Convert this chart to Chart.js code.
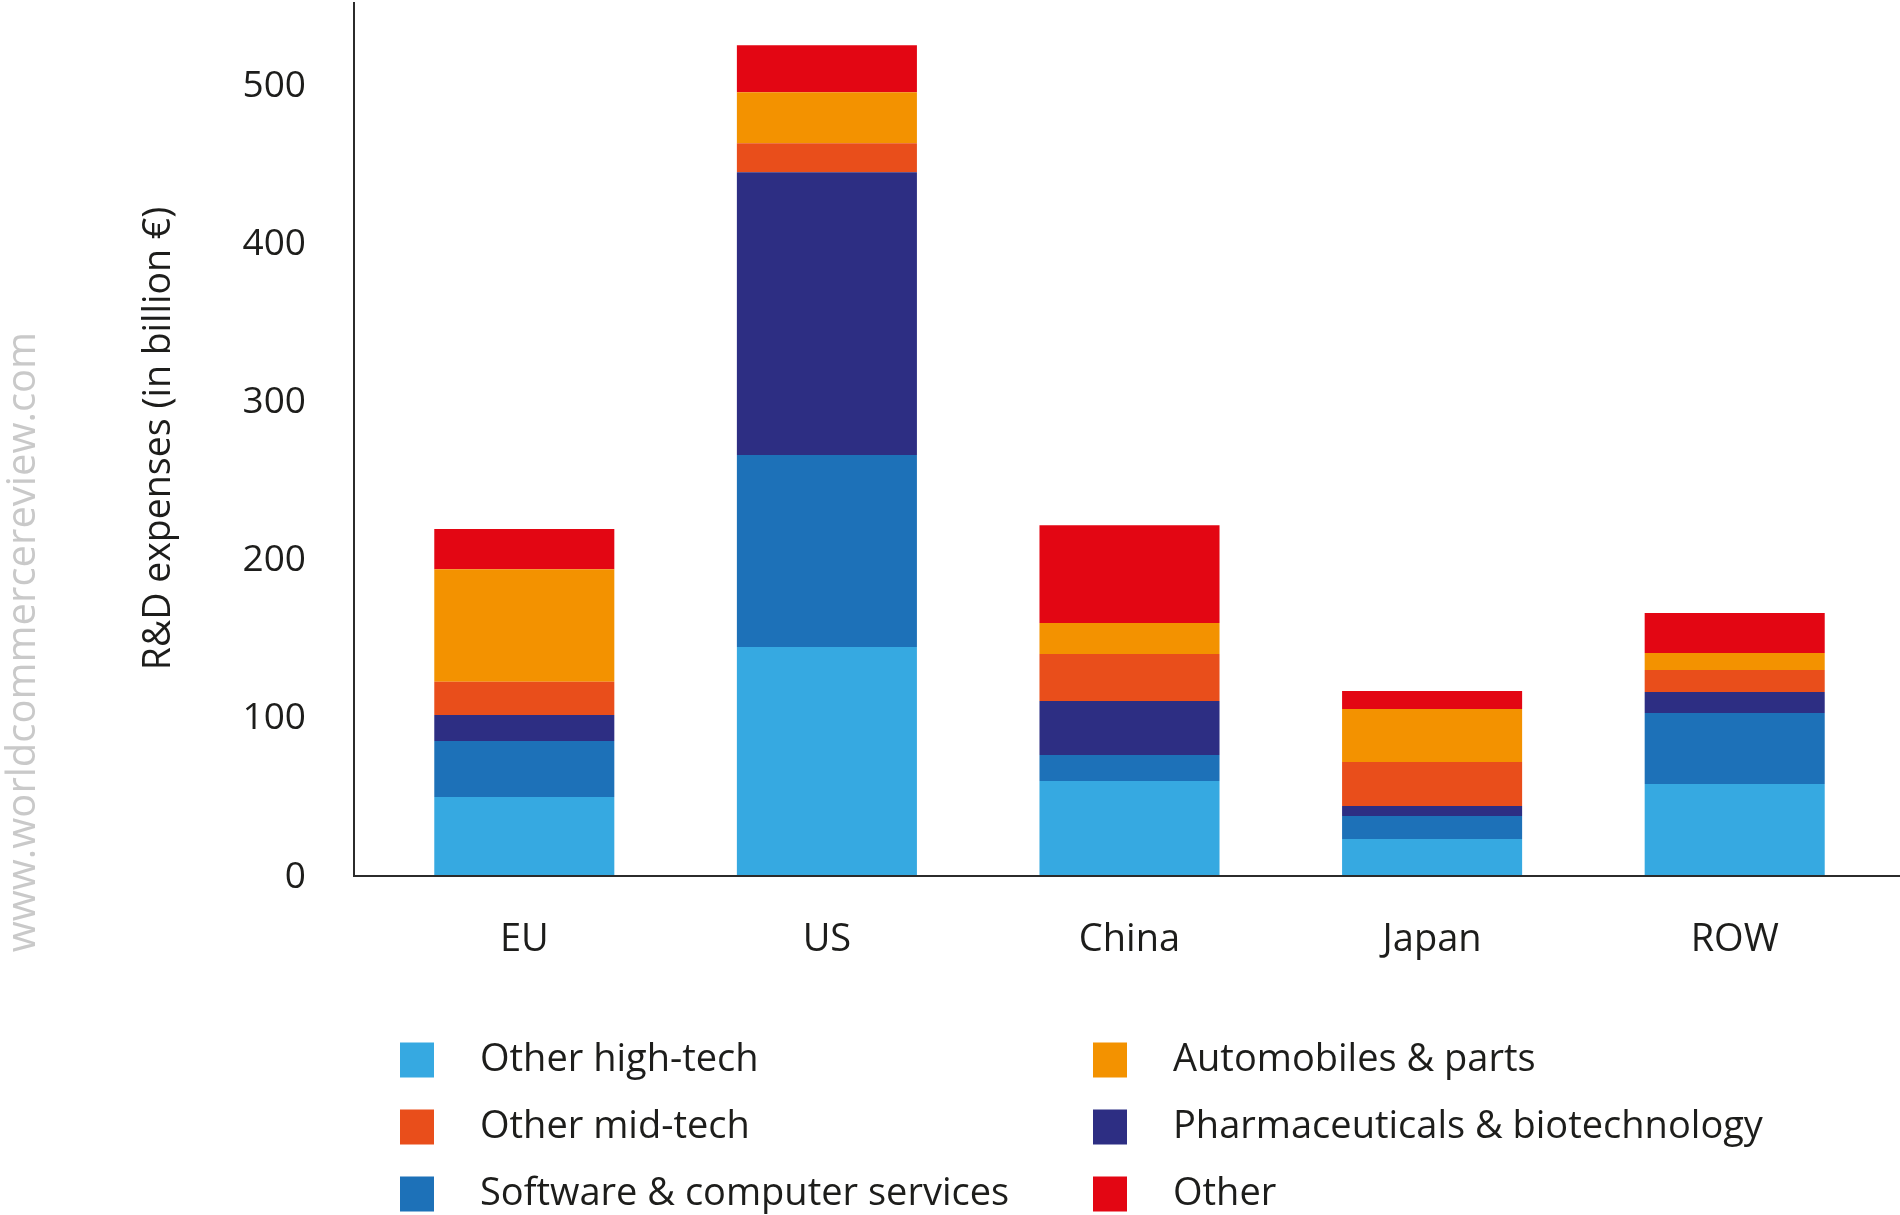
<!DOCTYPE html>
<html>
<head>
<meta charset="utf-8">
<title>R&amp;D expenses by region and sector</title>
<script src="https://cdn.jsdelivr.net/npm/chart.js@4/dist/chart.umd.min.js"></script>
<style>
  html, body { margin: 0; padding: 0; background: #ffffff; }
  #wrap { width: 1900px; height: 1215px; position: relative; }
</style>
</head>
<body>
<div id="wrap"><canvas id="chart" width="1900" height="1215"></canvas></div>
<script>
// Regions on the x axis
const regions = ['EU', 'US', 'China', 'Japan', 'ROW'];

// R&D expenses per sector, billion euro (stacked bottom to top)
const otherHighTech = [49.3, 144.1, 59.4, 22.8, 57.5];
const softwareServices = [35.4, 121.4, 16.5, 14.5, 44.9];
const pharmaBiotech = [16.4, 178.9, 34.1, 6.3, 13.3];
const otherMidTech = [21.1, 18.3, 29.7, 27.8, 13.9];
const automobiles = [71.2, 32.2, 19.6, 33.5, 10.7];
const otherSectors = [25.3, 29.8, 61.9, 11.4, 25.3];

const seriesNames = [
  'Other high-tech',
  'Software & computer services',
  'Pharmaceuticals & biotechnology',
  'Other mid-tech',
  'Automobiles & parts',
  'Other'
];
const seriesColors = ['#36a9e1', '#1d71b8', '#2d2e83', '#e94e1b', '#f39200', '#e30613'];
const seriesValues = [otherHighTech, softwareServices, pharmaBiotech, otherMidTech, automobiles, otherSectors];

// Y axis ticks
const yTicks = [0, 100, 200, 300, 400, 500];
const yTitle = 'R&D expenses (in billion €)';
const watermark = 'www.worldcommercereview.com';

// Legend arranged in two columns (indices into the series lists)
const legendColumns = [[0, 3, 1], [4, 2, 5]];

const FONT = "'Open Sans', 'DejaVu Sans', sans-serif";
const INK = '#1d1d1b';

const datasets = seriesNames.map((name, i) => ({
  label: name,
  data: seriesValues[i],
  backgroundColor: seriesColors[i],
  borderWidth: 0,
  categoryPercentage: 1.0,
  barPercentage: 0.595
}));

// Axis lines, watermark and the two-column legend
const decorations = {
  id: 'decorations',
  afterDatasetsDraw(chart) {
    const { ctx, chartArea, scales } = chart;
    const y0 = scales.y.getPixelForValue(0);
    const axisX = chartArea.left - 19;
    ctx.save();
    ctx.strokeStyle = '#2b2b2b';
    ctx.lineWidth = 2;
    ctx.beginPath();
    ctx.moveTo(axisX, chartArea.top);
    ctx.lineTo(axisX, y0 + 1);
    ctx.lineTo(chart.width, y0 + 1);
    ctx.stroke();
    ctx.restore();
  },
  afterDraw(chart) {
    const { ctx } = chart;
    // watermark
    ctx.save();
    ctx.translate(24, 642);
    ctx.rotate(-Math.PI / 2);
    ctx.font = '40px ' + FONT;
    ctx.fillStyle = '#c9c9c9';
    ctx.textAlign = 'center';
    ctx.textBaseline = 'middle';
    ctx.fillText(watermark, 0, 0);
    ctx.restore();

    // legend
    const colX = [400, 1093];
    const rowY = [1060, 1127, 1194];
    ctx.save();
    ctx.font = '38px ' + FONT;
    ctx.textBaseline = 'middle';
    ctx.textAlign = 'left';
    legendColumns.forEach((col, c) => {
      col.forEach((idx, r) => {
        const x = colX[c];
        const y = rowY[r];
        ctx.fillStyle = seriesColors[idx];
        ctx.fillRect(x, y - 17.5, 34, 35);
        ctx.fillStyle = INK;
        ctx.fillText(seriesNames[idx], x + 80, y);
      });
    });
    ctx.restore();
  }
};

new Chart(document.getElementById('chart'), {
  type: 'bar',
  data: { labels: regions, datasets },
  options: {
    responsive: false,
    animation: false,
    devicePixelRatio: 1,
    layout: { padding: { top: 2, right: 14, bottom: 0, left: 0 } },
    plugins: {
      legend: { display: false },
      tooltip: { enabled: false }
    },
    scales: {
      x: {
        stacked: true,
        grid: { display: false, drawTicks: false },
        border: { display: false },
        ticks: {
          color: INK,
          padding: 42,
          font: { family: FONT, size: 38 }
        },
        afterFit(scale) {
          scale.height = 340;
          scale.paddingLeft = 0;
          scale.paddingRight = 0;
        }
      },
      y: {
        stacked: true,
        min: 0,
        max: 552,
        grid: { display: false, drawTicks: false },
        border: { display: false },
        ticks: {
          stepSize: 100,
          color: INK,
          padding: 67,
          labelOffset: 2,
          font: { family: FONT, size: 37 }
        },
        afterBuildTicks(scale) {
          scale.ticks = yTicks.map(v => ({ value: v }));
        },
        title: {
          display: true,
          text: yTitle,
          color: INK,
          padding: { top: 136.5, bottom: 0 },
          font: { family: FONT, size: 37.5 }
        },
        afterFit(scale) {
          scale.width = 373;
          scale.paddingTop = 0;
          scale.paddingBottom = 0;
        }
      }
    }
  },
  plugins: [decorations]
});
</script>
</body>
</html>
